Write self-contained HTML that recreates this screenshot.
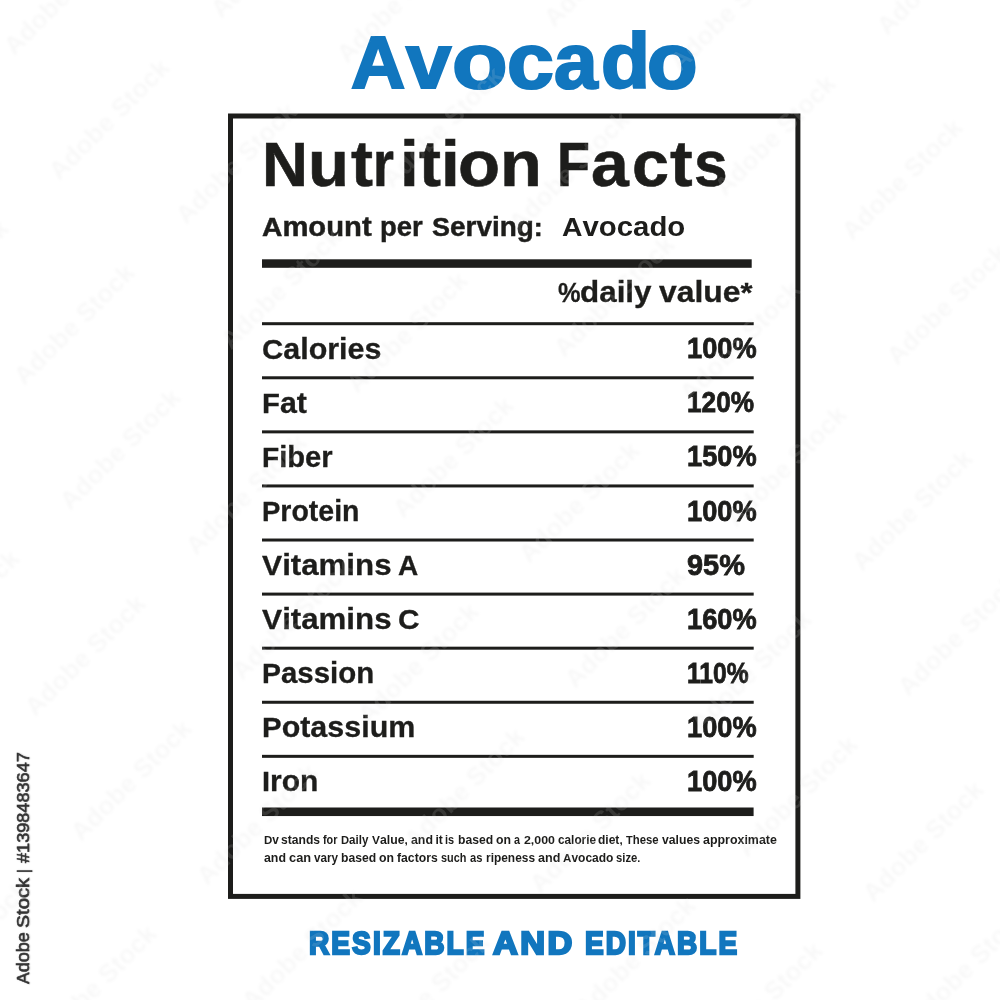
<!DOCTYPE html>
<html lang="en">
<head>
<meta charset="utf-8">
<title>Avocado Nutrition Facts</title>
<style>
html,body{margin:0;padding:0;background:#fff}
body{width:1000px;height:1000px;position:relative;overflow:hidden;font-family:"Liberation Sans",sans-serif}
.page{position:absolute;left:0;top:0;width:1000px;height:1000px;will-change:transform}
.frame{position:absolute;left:0;top:0}
.g{margin:0;padding:0;height:0;font-size:0;line-height:0;font-weight:inherit}
.side{position:absolute;left:28.5px;top:983.6px;width:0;height:0;font-size:0;line-height:0;transform:rotate(-90deg);transform-origin:0 0}
.side .t{text-shadow:0 1px 1.5px rgba(0,0,0,.28),0 0 2.5px rgba(0,0,0,.12)}
.wmk{position:absolute;left:0;top:0;width:1000px;height:1000px;overflow:hidden;pointer-events:none}
.wm{position:absolute;width:170px;height:26px;margin:-15px 0 0 -85px;font:700 26px/26px "Liberation Sans",sans-serif;text-align:center;white-space:nowrap;transform:rotate(-45deg);color:rgba(255,255,255,.12);text-shadow:0 0 3px rgba(0,0,0,.035)}
.t{position:absolute;white-space:pre;line-height:0;font-weight:700;transform-origin:0 0;font-family:"Liberation Sans",sans-serif;paint-order:stroke fill;stroke-linejoin:round}
.t span{font-family:inherit}
.mk{display:inline-block;width:0;height:0}
</style>
</head>
<body>
<div class="page">
<svg class="frame" width="1000" height="1000" viewBox="0 0 1000 1000" aria-hidden="true">
<rect x="230.5" y="116" width="567.4" height="780.4" fill="none" stroke="#1d1d1b" stroke-width="5"/>
<rect x="262" y="259.3" width="489.7" height="8.5" fill="#1d1d1b"/>
<rect x="262" y="322.20" width="491.7" height="3" fill="#1d1d1b"/>
<rect x="262" y="376.28" width="491.7" height="3" fill="#1d1d1b"/>
<rect x="262" y="430.36" width="491.7" height="3" fill="#1d1d1b"/>
<rect x="262" y="484.44" width="491.7" height="3" fill="#1d1d1b"/>
<rect x="262" y="538.52" width="491.7" height="3" fill="#1d1d1b"/>
<rect x="262" y="592.60" width="491.7" height="3" fill="#1d1d1b"/>
<rect x="262" y="646.68" width="491.7" height="3" fill="#1d1d1b"/>
<rect x="262" y="700.76" width="491.7" height="3" fill="#1d1d1b"/>
<rect x="262" y="754.84" width="491.7" height="3" fill="#1d1d1b"/>
<rect x="262" y="807.5" width="491.6" height="8.55" fill="#1d1d1b"/>
</svg>
<h1 class="g title"><span class="t" id="ti0" style="left:350.52px;top:62.90px;font-size:74.42px;color:#1176be;-webkit-text-stroke:2.2px #1176be;transform:scaleX(1.0091);">A</span><span class="t" id="ti1" style="left:405.66px;top:60.90px;font-size:74.42px;color:#1176be;-webkit-text-stroke:2.2px #1176be;transform:scaleX(1.0570);"><span style="font-size:77.02px">v</span></span><span class="t" id="ti2" style="left:452.24px;top:60.90px;font-size:74.42px;color:#1176be;-webkit-text-stroke:2.2px #1176be;transform:scaleX(1.1814);"><span style="font-size:77.02px">o</span></span><span class="t" id="ti3" style="left:506.82px;top:60.90px;font-size:74.42px;color:#1176be;-webkit-text-stroke:2.2px #1176be;transform:scaleX(1.0925);"><span style="font-size:77.02px">c</span></span><span class="t" id="ti4" style="left:554.38px;top:60.90px;font-size:74.42px;color:#1176be;-webkit-text-stroke:2.2px #1176be;transform:scaleX(1.0183);"><span style="font-size:77.02px">a</span></span><span class="t" id="ti5" style="left:600.81px;top:60.90px;font-size:74.42px;color:#1176be;-webkit-text-stroke:2.2px #1176be;transform:scaleX(1.0415);"><span style="font-size:77.02px">d</span></span><span class="t" id="ti6" style="left:647.45px;top:60.90px;font-size:74.42px;color:#1176be;-webkit-text-stroke:2.2px #1176be;transform:scaleX(1.0744);"><span style="font-size:77.02px">o</span></span></h1>
<h2 class="g nf"><span class="t" id="nf0" style="left:261.84px;top:164.70px;font-size:62.35px;color:#1d1d1b;-webkit-text-stroke:0.6px #1d1d1b;transform:scaleX(1.0205);">N</span><span class="t" id="nf1" style="left:308.16px;top:163.70px;font-size:62.35px;color:#1d1d1b;-webkit-text-stroke:0.6px #1d1d1b;transform:scaleX(1.0384);"><span style="font-size:64.54px">u</span></span><span class="t" id="nf2" style="left:350.61px;top:163.70px;font-size:62.35px;color:#1d1d1b;-webkit-text-stroke:0.6px #1d1d1b;transform:scaleX(1.0223);"><span style="font-size:64.54px">t</span></span><span class="t" id="nf3" style="left:372.59px;top:163.70px;font-size:62.35px;color:#1d1d1b;-webkit-text-stroke:0.6px #1d1d1b;transform:scaleX(0.8329);"><span style="font-size:64.54px">r</span></span><span class="t" id="nf4" style="left:400.11px;top:163.70px;font-size:62.35px;color:#1d1d1b;-webkit-text-stroke:0.6px #1d1d1b;transform:scaleX(1.0472);"><span style="font-size:64.54px">i</span></span><span class="t" id="nf5" style="left:418.61px;top:163.70px;font-size:62.35px;color:#1d1d1b;-webkit-text-stroke:0.6px #1d1d1b;transform:scaleX(1.0223);"><span style="font-size:64.54px">t</span></span><span class="t" id="nf6" style="left:441.11px;top:163.70px;font-size:62.35px;color:#1d1d1b;-webkit-text-stroke:0.6px #1d1d1b;transform:scaleX(1.0472);"><span style="font-size:64.54px">i</span></span><span class="t" id="nf7" style="left:457.62px;top:163.70px;font-size:62.35px;color:#1d1d1b;-webkit-text-stroke:0.6px #1d1d1b;transform:scaleX(1.0669);"><span style="font-size:64.54px">o</span></span><span class="t" id="nf8" style="left:499.65px;top:163.70px;font-size:62.35px;color:#1d1d1b;-webkit-text-stroke:0.6px #1d1d1b;transform:scaleX(1.0608);"><span style="font-size:64.54px">n</span></span> <span class="t" id="nf9" style="left:556.98px;top:164.70px;font-size:62.35px;color:#1d1d1b;-webkit-text-stroke:0.6px #1d1d1b;transform:scaleX(0.8638);">F</span><span class="t" id="nf10" style="left:591.36px;top:163.70px;font-size:62.35px;color:#1d1d1b;-webkit-text-stroke:0.6px #1d1d1b;transform:scaleX(1.0529);"><span style="font-size:64.54px">a</span></span><span class="t" id="nf11" style="left:631.70px;top:163.70px;font-size:62.35px;color:#1d1d1b;-webkit-text-stroke:0.6px #1d1d1b;transform:scaleX(1.0302);"><span style="font-size:64.54px">c</span></span><span class="t" id="nf12" style="left:669.60px;top:163.70px;font-size:62.35px;color:#1d1d1b;-webkit-text-stroke:0.6px #1d1d1b;transform:scaleX(1.0515);"><span style="font-size:64.54px">t</span></span><span class="t" id="nf13" style="left:693.56px;top:163.70px;font-size:62.35px;color:#1d1d1b;-webkit-text-stroke:0.6px #1d1d1b;transform:scaleX(0.9365);"><span style="font-size:64.54px">s</span></span></h2>
<p class="g serving"><span class="t" id="am1" style="left:262.06px;top:226.58px;font-size:25.94px;color:#1d1d1b;-webkit-text-stroke:0.45px #1d1d1b;transform:scaleX(1.0884);">A<span style="font-size:26.85px">mount</span></span> <span class="t" id="am2" style="left:379.51px;top:226.58px;font-size:25.94px;color:#1d1d1b;-webkit-text-stroke:0.45px #1d1d1b;transform:scaleX(1.0211);"><span style="font-size:26.85px">per</span></span> <span class="t" id="am3" style="left:432.38px;top:226.58px;font-size:25.94px;color:#1d1d1b;-webkit-text-stroke:0.45px #1d1d1b;transform:scaleX(1.0399);">S<span style="font-size:26.85px">erving</span>:</span> <span class="t" id="am4" style="left:561.93px;top:226.80px;font-size:26.60px;color:#1d1d1b;transform:scaleX(1.0668);">A<span style="font-size:27.53px">vocado</span></span></p>
<div class="g dvhead"><span class="t" id="dv0" style="left:558.02px;top:291.75px;font-size:28.34px;color:#1d1d1b;-webkit-text-stroke:0.3px #1d1d1b;transform:scaleX(0.8951);">%</span><span class="t" id="dv1" style="left:580.25px;top:291.75px;font-size:28.34px;color:#1d1d1b;-webkit-text-stroke:0.3px #1d1d1b;transform:scaleX(1.0703);"><span style="font-size:29.34px">daily</span></span> <span class="t" id="dv2" style="left:658.62px;top:291.75px;font-size:28.34px;color:#1d1d1b;-webkit-text-stroke:0.3px #1d1d1b;transform:scaleX(1.0876);"><span style="font-size:29.34px">value</span>*</span></div>
<div class="g row"><span class="t" id="r0a" style="left:261.55px;top:348.55px;font-size:28.34px;color:#1d1d1b;-webkit-text-stroke:0.3px #1d1d1b;transform:scaleX(1.0384);">C<span style="font-size:29.34px">alories</span></span> <span class="t" id="r0v" style="left:686.72px;top:348.30px;font-size:29.36px;color:#1d1d1b;-webkit-text-stroke:0.8px #1d1d1b;transform:scaleX(0.9266);">100%</span></div>
<div class="g row"><span class="t" id="r1a" style="left:261.58px;top:402.63px;font-size:28.34px;color:#1d1d1b;-webkit-text-stroke:0.3px #1d1d1b;transform:scaleX(1.0350);">F<span style="font-size:29.34px">at</span></span> <span class="t" id="r1v" style="left:686.77px;top:402.38px;font-size:29.36px;color:#1d1d1b;-webkit-text-stroke:0.8px #1d1d1b;transform:scaleX(0.8925);">120%</span></div>
<div class="g row"><span class="t" id="r2a" style="left:261.65px;top:456.71px;font-size:28.34px;color:#1d1d1b;-webkit-text-stroke:0.3px #1d1d1b;transform:scaleX(0.9932);">F<span style="font-size:29.34px">iber</span></span> <span class="t" id="r2v" style="left:686.72px;top:456.46px;font-size:29.36px;color:#1d1d1b;-webkit-text-stroke:0.8px #1d1d1b;transform:scaleX(0.9266);">150%</span></div>
<div class="g row"><span class="t" id="r3a" style="left:261.68px;top:510.79px;font-size:28.34px;color:#1d1d1b;-webkit-text-stroke:0.3px #1d1d1b;transform:scaleX(0.9713);">P<span style="font-size:29.34px">rotein</span></span> <span class="t" id="r3v" style="left:686.72px;top:510.54px;font-size:29.36px;color:#1d1d1b;-webkit-text-stroke:0.8px #1d1d1b;transform:scaleX(0.9266);">100%</span></div>
<div class="g row"><span class="t" id="r4a" style="left:262.15px;top:564.87px;font-size:28.34px;color:#1d1d1b;-webkit-text-stroke:0.3px #1d1d1b;transform:scaleX(1.0651);">V<span style="font-size:29.34px">itamins</span></span> <span class="t" id="r4b" style="left:398.33px;top:564.87px;font-size:28.34px;color:#1d1d1b;-webkit-text-stroke:0.3px #1d1d1b;transform:scaleX(0.9889);">A</span> <span class="t" id="r4v" style="left:687.36px;top:564.62px;font-size:29.36px;color:#1d1d1b;-webkit-text-stroke:0.8px #1d1d1b;transform:scaleX(0.9860);">95%</span></div>
<div class="g row"><span class="t" id="r5a" style="left:262.15px;top:618.95px;font-size:28.34px;color:#1d1d1b;-webkit-text-stroke:0.3px #1d1d1b;transform:scaleX(1.0651);">V<span style="font-size:29.34px">itamins</span></span> <span class="t" id="r5b" style="left:397.98px;top:618.95px;font-size:28.34px;color:#1d1d1b;-webkit-text-stroke:0.3px #1d1d1b;transform:scaleX(1.0516);">C</span> <span class="t" id="r5v" style="left:686.72px;top:618.70px;font-size:29.36px;color:#1d1d1b;-webkit-text-stroke:0.8px #1d1d1b;transform:scaleX(0.9266);">160%</span></div>
<div class="g row"><span class="t" id="r6a" style="left:261.63px;top:673.03px;font-size:28.34px;color:#1d1d1b;-webkit-text-stroke:0.3px #1d1d1b;transform:scaleX(1.0041);">P<span style="font-size:29.34px">assion</span></span> <span class="t" id="r6v" style="left:686.84px;top:672.78px;font-size:29.36px;color:#1d1d1b;-webkit-text-stroke:0.8px #1d1d1b;transform:scaleX(0.8388);">110%</span></div>
<div class="g row"><span class="t" id="r7a" style="left:261.57px;top:727.11px;font-size:28.34px;color:#1d1d1b;-webkit-text-stroke:0.3px #1d1d1b;transform:scaleX(1.0382);">P<span style="font-size:29.34px">otassium</span></span> <span class="t" id="r7v" style="left:686.72px;top:726.86px;font-size:29.36px;color:#1d1d1b;-webkit-text-stroke:0.8px #1d1d1b;transform:scaleX(0.9266);">100%</span></div>
<div class="g row"><span class="t" id="r8a" style="left:261.60px;top:781.19px;font-size:28.34px;color:#1d1d1b;-webkit-text-stroke:0.3px #1d1d1b;transform:scaleX(1.0231);">I<span style="font-size:29.34px">ron</span></span> <span class="t" id="r8v" style="left:686.72px;top:780.94px;font-size:29.36px;color:#1d1d1b;-webkit-text-stroke:0.8px #1d1d1b;transform:scaleX(0.9266);">100%</span></div>
<p class="g foot"><span class="t" id="f1_0" style="left:263.63px;top:840.00px;font-size:11.63px;color:#1d1d1b;transform:scaleX(0.9892);">D<span style="font-size:12.03px">v</span></span> <span class="t" id="f1_1" style="left:281.32px;top:840.00px;font-size:11.63px;color:#1d1d1b;transform:scaleX(1.0075);"><span style="font-size:12.03px">stands</span></span> <span class="t" id="f1_2" style="left:323.40px;top:840.00px;font-size:11.63px;color:#1d1d1b;transform:scaleX(0.9031);"><span style="font-size:12.03px">for</span></span> <span class="t" id="f1_3" style="left:340.85px;top:840.00px;font-size:11.63px;color:#1d1d1b;transform:scaleX(0.9625);">D<span style="font-size:12.03px">aily</span></span> <span class="t" id="f1_4" style="left:372.11px;top:840.00px;font-size:11.63px;color:#1d1d1b;transform:scaleX(1.0204);">V<span style="font-size:12.03px">alue</span>,</span> <span class="t" id="f1_5" style="left:410.92px;top:840.00px;font-size:11.63px;color:#1d1d1b;transform:scaleX(1.0284);"><span style="font-size:12.03px">and</span></span> <span class="t" id="f1_6" style="left:435.40px;top:840.00px;font-size:11.63px;color:#1d1d1b;"><span style="font-size:12.03px">it</span></span> <span class="t" id="f1_7" style="left:445.49px;top:840.00px;font-size:11.63px;color:#1d1d1b;transform:scaleX(0.9107);"><span style="font-size:12.03px">is</span></span> <span class="t" id="f1_8" style="left:457.57px;top:840.00px;font-size:11.63px;color:#1d1d1b;transform:scaleX(1.0128);"><span style="font-size:12.03px">based</span></span> <span class="t" id="f1_9" style="left:495.87px;top:840.00px;font-size:11.63px;color:#1d1d1b;transform:scaleX(1.0221);"><span style="font-size:12.03px">on</span></span> <span class="t" id="f1_10" style="left:513.58px;top:840.00px;font-size:11.63px;color:#1d1d1b;transform:scaleX(0.8970);"><span style="font-size:12.03px">a</span></span> <span class="t" id="f1_11" style="left:523.55px;top:840.00px;font-size:11.63px;color:#1d1d1b;transform:scaleX(1.0621);">2,000</span> <span class="t" id="f1_12" style="left:557.50px;top:840.00px;font-size:11.63px;color:#1d1d1b;transform:scaleX(0.9820);"><span style="font-size:12.03px">calorie</span></span> <span class="t" id="f1_13" style="left:598.47px;top:840.00px;font-size:11.63px;color:#1d1d1b;transform:scaleX(1.0003);"><span style="font-size:12.03px">diet</span>,</span> <span class="t" id="f1_14" style="left:626.36px;top:840.00px;font-size:11.63px;color:#1d1d1b;transform:scaleX(0.9444);">T<span style="font-size:12.03px">hese</span></span> <span class="t" id="f1_15" style="left:662.16px;top:840.00px;font-size:11.63px;color:#1d1d1b;transform:scaleX(1.0165);"><span style="font-size:12.03px">values</span></span> <span class="t" id="f1_16" style="left:703.11px;top:840.00px;font-size:11.63px;color:#1d1d1b;transform:scaleX(1.0333);"><span style="font-size:12.03px">approximate</span></span> <span class="t" id="f2_0" style="left:263.92px;top:858.20px;font-size:11.63px;color:#1d1d1b;transform:scaleX(1.0284);"><span style="font-size:12.03px">and</span></span> <span class="t" id="f2_1" style="left:288.86px;top:858.20px;font-size:11.63px;color:#1d1d1b;transform:scaleX(1.0666);"><span style="font-size:12.03px">can</span></span> <span class="t" id="f2_2" style="left:313.77px;top:858.20px;font-size:11.63px;color:#1d1d1b;transform:scaleX(0.9744);"><span style="font-size:12.03px">vary</span></span> <span class="t" id="f2_3" style="left:341.17px;top:858.20px;font-size:11.63px;color:#1d1d1b;transform:scaleX(1.0128);"><span style="font-size:12.03px">based</span></span> <span class="t" id="f2_4" style="left:379.47px;top:858.20px;font-size:11.63px;color:#1d1d1b;transform:scaleX(1.0221);"><span style="font-size:12.03px">on</span></span> <span class="t" id="f2_5" style="left:397.37px;top:858.20px;font-size:11.63px;color:#1d1d1b;transform:scaleX(1.0162);"><span style="font-size:12.03px">factors</span></span> <span class="t" id="f2_6" style="left:440.98px;top:858.20px;font-size:11.63px;color:#1d1d1b;transform:scaleX(0.9076);"><span style="font-size:12.03px">such</span></span> <span class="t" id="f2_7" style="left:469.56px;top:858.20px;font-size:11.63px;color:#1d1d1b;transform:scaleX(0.9307);"><span style="font-size:12.03px">as</span></span> <span class="t" id="f2_8" style="left:485.58px;top:858.20px;font-size:11.63px;color:#1d1d1b;transform:scaleX(0.9916);"><span style="font-size:12.03px">ripeness</span></span> <span class="t" id="f2_9" style="left:537.51px;top:858.20px;font-size:11.63px;color:#1d1d1b;transform:scaleX(1.0484);"><span style="font-size:12.03px">and</span></span> <span class="t" id="f2_10" style="left:563.01px;top:858.20px;font-size:11.63px;color:#1d1d1b;transform:scaleX(0.9998);">A<span style="font-size:12.03px">vocado</span></span> <span class="t" id="f2_11" style="left:616.16px;top:858.20px;font-size:11.63px;color:#1d1d1b;transform:scaleX(0.9392);"><span style="font-size:12.03px">size</span>.</span></p>
<p class="g caption"><span class="t" id="cap1" style="left:308.61px;top:942.65px;font-size:31.54px;color:#1176be;-webkit-text-stroke:2.3px #1176be;letter-spacing:2.3px;transform:scaleX(0.8906);">RESIZABLE</span> <span class="t" id="cap2" style="left:493.22px;top:942.65px;font-size:31.54px;color:#1176be;-webkit-text-stroke:2.3px #1176be;letter-spacing:2.3px;transform:scaleX(1.0878);">AND</span> <span class="t" id="cap3" style="left:584.91px;top:942.65px;font-size:31.54px;color:#1176be;-webkit-text-stroke:2.3px #1176be;letter-spacing:2.3px;transform:scaleX(0.8871);">EDITABLE</span></p>
<div class="side"><span class="t" id="sd0" style="left:-0.10px;top:-6.25px;font-size:17.30px;color:#333333;font-weight:400;-webkit-text-stroke:0.5px #333333;transform:scaleX(1.0103);">A<span style="font-size:17.90px">dobe</span></span> <span class="t" id="sd1" style="left:55.75px;top:-6.25px;font-size:17.30px;color:#333333;font-weight:400;-webkit-text-stroke:0.5px #333333;transform:scaleX(1.1323);">S<span style="font-size:17.90px">tock</span></span> <span class="t" id="sd2" style="left:111.36px;top:-6.25px;font-size:17.30px;color:#333333;font-weight:400;-webkit-text-stroke:0.5px #333333;transform:scaleX(0.8276);">|</span> <span class="t" id="sd3" style="left:121.38px;top:-6.25px;font-size:17.30px;color:#333333;font-weight:400;-webkit-text-stroke:0.5px #333333;transform:scaleX(1.0479);">#1398483647</span></div>
<div class="wmk" aria-hidden="true">
<span class="wm" style="left:-30.6px;top:942.9px">Adobe Stock</span>
<span class="wm" style="left:-41.2px;top:612.3px">Adobe Stock</span>
<span class="wm" style="left:95.6px;top:987.3px">Adobe Stock</span>
<span class="wm" style="left:-51.8px;top:281.7px">Adobe Stock</span>
<span class="wm" style="left:85.0px;top:656.7px">Adobe Stock</span>
<span class="wm" style="left:130.6px;top:781.7px">Adobe Stock</span>
<span class="wm" style="left:-62.4px;top:-48.9px">Adobe Stock</span>
<span class="wm" style="left:74.4px;top:326.1px">Adobe Stock</span>
<span class="wm" style="left:120.0px;top:451.1px">Adobe Stock</span>
<span class="wm" style="left:256.8px;top:826.1px">Adobe Stock</span>
<span class="wm" style="left:302.4px;top:951.1px">Adobe Stock</span>
<span class="wm" style="left:63.8px;top:-4.5px">Adobe Stock</span>
<span class="wm" style="left:109.4px;top:120.5px">Adobe Stock</span>
<span class="wm" style="left:246.2px;top:495.5px">Adobe Stock</span>
<span class="wm" style="left:291.8px;top:620.5px">Adobe Stock</span>
<span class="wm" style="left:428.6px;top:995.5px">Adobe Stock</span>
<span class="wm" style="left:235.6px;top:164.9px">Adobe Stock</span>
<span class="wm" style="left:281.2px;top:289.9px">Adobe Stock</span>
<span class="wm" style="left:418.0px;top:664.9px">Adobe Stock</span>
<span class="wm" style="left:463.6px;top:789.9px">Adobe Stock</span>
<span class="wm" style="left:270.6px;top:-40.7px">Adobe Stock</span>
<span class="wm" style="left:407.4px;top:334.3px">Adobe Stock</span>
<span class="wm" style="left:453.0px;top:459.3px">Adobe Stock</span>
<span class="wm" style="left:589.8px;top:834.3px">Adobe Stock</span>
<span class="wm" style="left:635.4px;top:959.3px">Adobe Stock</span>
<span class="wm" style="left:396.8px;top:3.7px">Adobe Stock</span>
<span class="wm" style="left:442.4px;top:128.7px">Adobe Stock</span>
<span class="wm" style="left:579.2px;top:503.7px">Adobe Stock</span>
<span class="wm" style="left:624.8px;top:628.7px">Adobe Stock</span>
<span class="wm" style="left:761.6px;top:1003.7px">Adobe Stock</span>
<span class="wm" style="left:568.6px;top:173.1px">Adobe Stock</span>
<span class="wm" style="left:614.2px;top:298.1px">Adobe Stock</span>
<span class="wm" style="left:751.0px;top:673.1px">Adobe Stock</span>
<span class="wm" style="left:796.6px;top:798.1px">Adobe Stock</span>
<span class="wm" style="left:603.6px;top:-32.5px">Adobe Stock</span>
<span class="wm" style="left:740.4px;top:342.5px">Adobe Stock</span>
<span class="wm" style="left:786.0px;top:467.5px">Adobe Stock</span>
<span class="wm" style="left:922.8px;top:842.5px">Adobe Stock</span>
<span class="wm" style="left:968.4px;top:967.5px">Adobe Stock</span>
<span class="wm" style="left:729.8px;top:11.9px">Adobe Stock</span>
<span class="wm" style="left:775.4px;top:136.9px">Adobe Stock</span>
<span class="wm" style="left:912.2px;top:511.9px">Adobe Stock</span>
<span class="wm" style="left:957.8px;top:636.9px">Adobe Stock</span>
<span class="wm" style="left:901.6px;top:181.3px">Adobe Stock</span>
<span class="wm" style="left:947.2px;top:306.3px">Adobe Stock</span>
<span class="wm" style="left:936.6px;top:-24.3px">Adobe Stock</span>
<span class="wm" style="left:1062.8px;top:20.1px">Adobe Stock</span>
</div>
</div>
</body>
</html>
